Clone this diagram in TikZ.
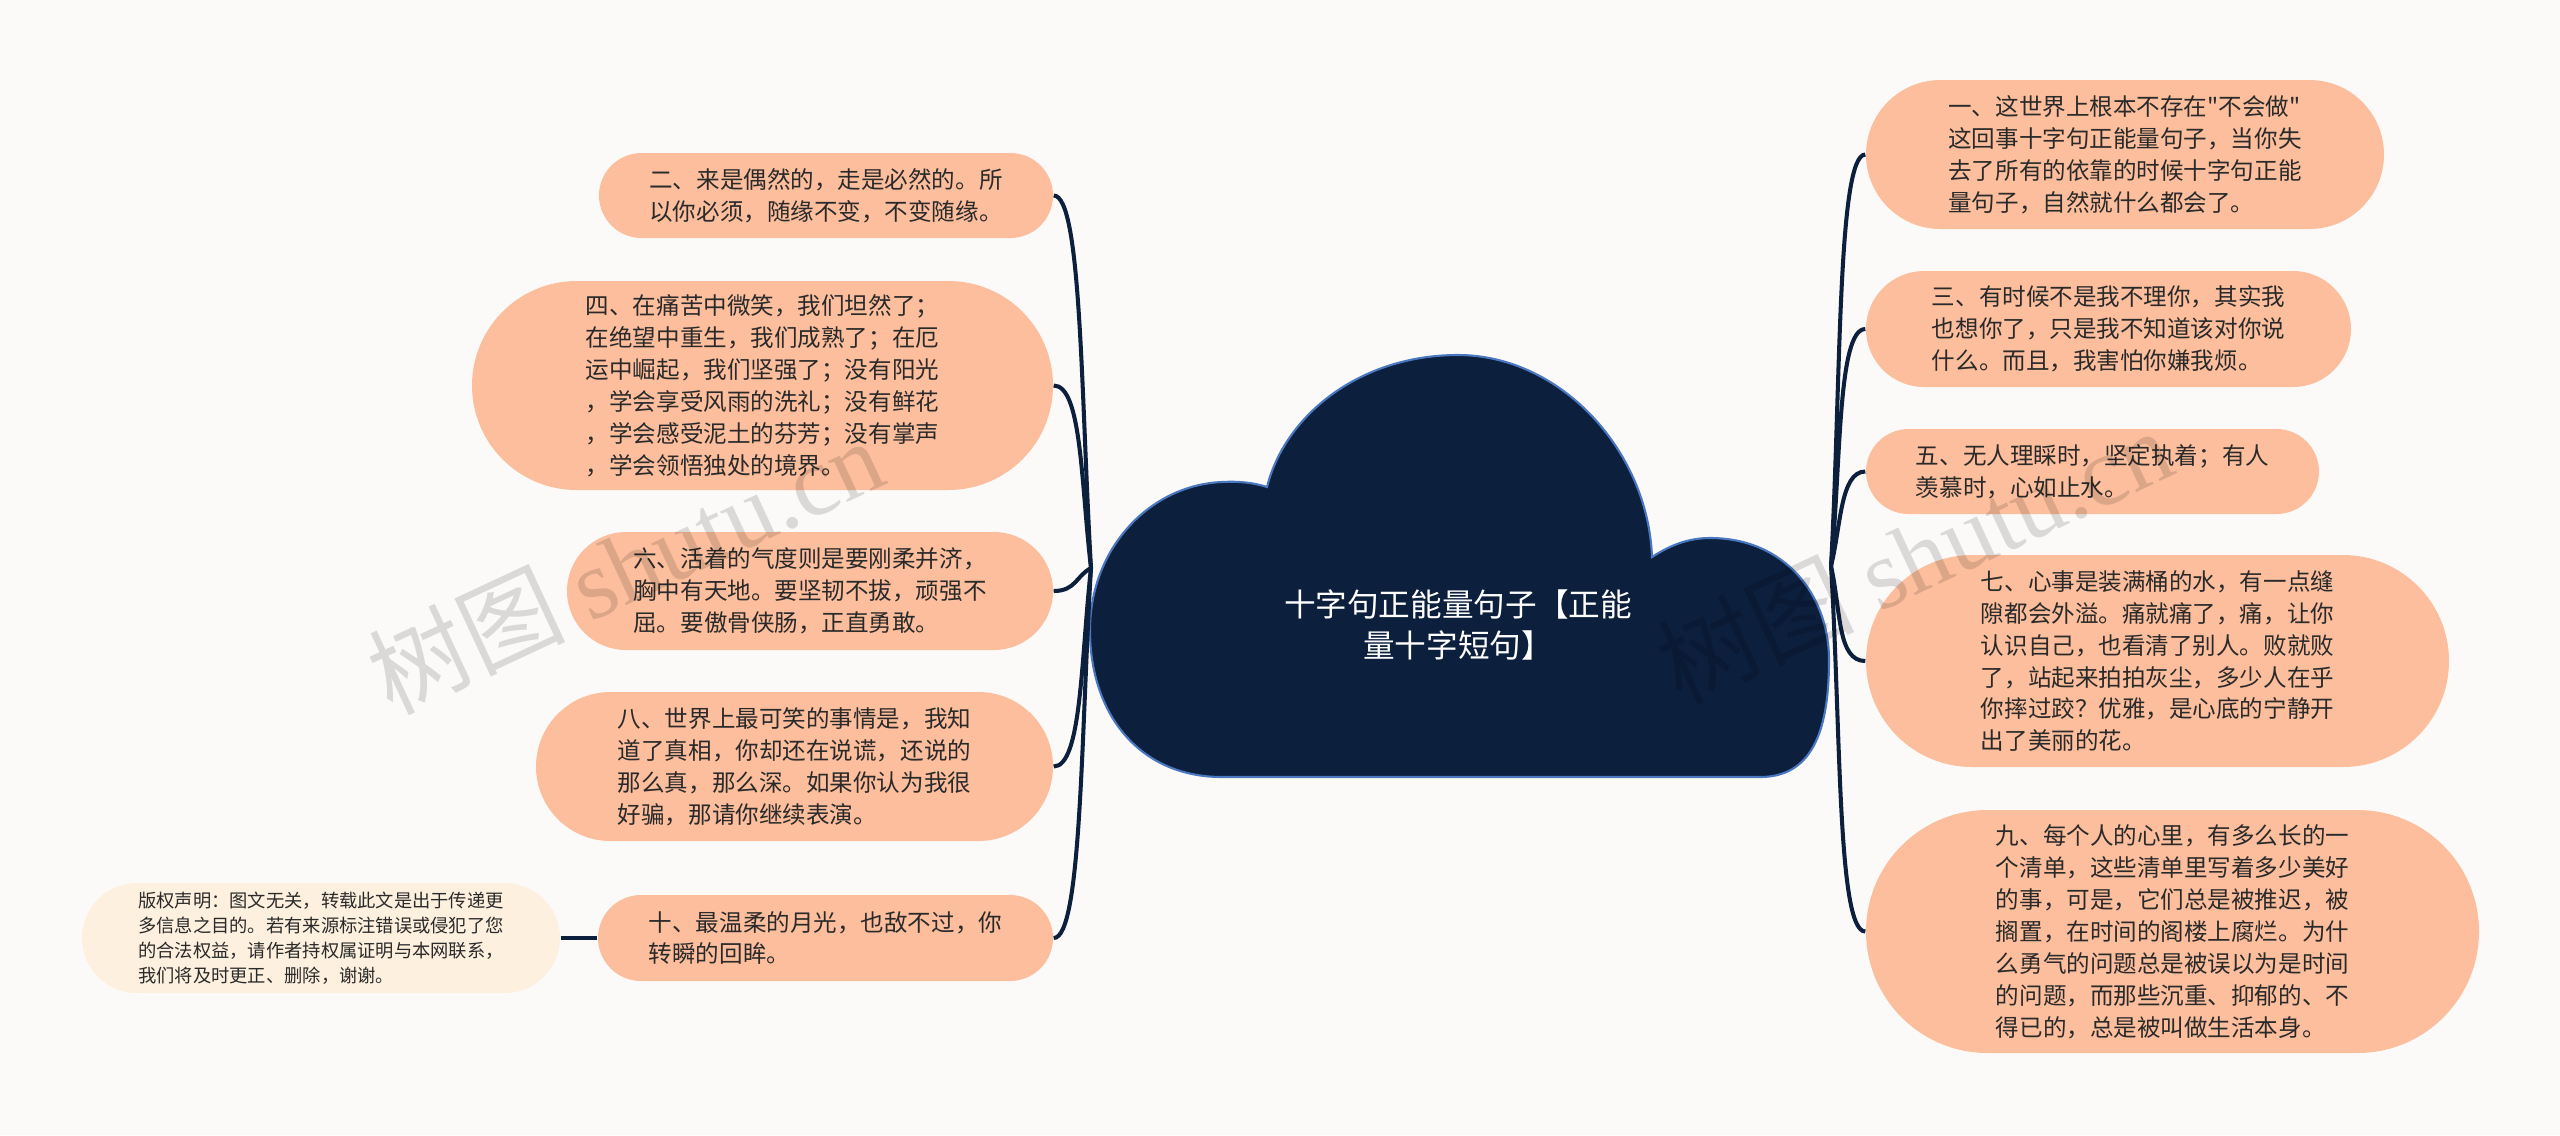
\documentclass[tikz,border=0pt]{standalone}
\usepackage{fontspec}
\setmainfont{Noto Sans CJK SC}[Ligatures=TeXOff]
\newfontfamily\wmfont{Liberation Serif}
\usetikzlibrary{shapes.misc}
\definecolor{bg}{HTML}{FCFAF8}
\definecolor{peach}{HTML}{FCBE9C}
\definecolor{cream}{HTML}{FDF0DF}
\definecolor{navy}{HTML}{0C1F3D}
\definecolor{cloudedge}{HTML}{4A78C0}
\definecolor{txt}{HTML}{2A2A2A}
\begin{document}
\begin{tikzpicture}[x=0.1mm,y=-0.1mm,
  pill/.style={rounded rectangle, fill=peach, inner sep=0pt, align=left, text=txt,
    font=\fontsize{6.7pt}{9.1pt}\selectfont},
  note/.style={pill, fill=cream, font=\fontsize{5.2pt}{7.1pt}\selectfont},
  conn/.style={draw=navy, line width=1.15pt},
  wm/.style={rotate=25, text=black, opacity=0.13, font=\fontsize{28pt}{30pt}\selectfont}
]
\fill[bg] (0,0) rectangle (2560,1135);
\useasboundingbox (0,0) rectangle (2560,1135);

% central cloud
\path[fill=navy, draw=cloudedge, line width=0.6pt]
  (1267,487) .. controls (1285,415) and (1360,355) .. (1458,355)
  .. controls (1560,355) and (1648,450) .. (1652,557)
  .. controls (1672,544) and (1690,538) .. (1710,538)
  .. controls (1785,538) and (1829,595) .. (1829,660)
  .. controls (1829,735) and (1810,777) .. (1760,777)
  -- (1222,777)
  .. controls (1140,777) and (1090,715) .. (1090,630)
  .. controls (1090,548) and (1150,485) .. (1222,482)
  .. controls (1240,481) and (1255,483) .. (1267,487) -- cycle;
\node[text=white, align=center, font=\fontsize{9pt}{11.7pt}\selectfont] (root) at (1458,625)
  {十字句正能量句子【正能\\量十字短句】};
\coordinate (hl) at (1091,568);
\coordinate (hr) at (1831,566);

% left nodes
\node[pill, minimum width=45.4mm, minimum height=8.5mm] (n2) at (826,195.5)
  {二、来是偶然的，走是必然的。所\\以你必须，随缘不变，不变随缘。};
\node[pill, minimum width=58.1mm, minimum height=20.9mm] (n4) at (762.5,385.5)
  {四、在痛苦中微笑，我们坦然了；\\在绝望中重生，我们成熟了；在厄\\运中崛起，我们坚强了；没有阳光\\，学会享受风雨的洗礼；没有鲜花\\，学会感受泥土的芬芳；没有掌声\\，学会领悟独处的境界。};
\node[pill, minimum width=48.6mm, minimum height=11.8mm] (n6) at (810,591)
  {六、活着的气度则是要刚柔并济，\\胸中有天地。要坚韧不拔，顽强不\\屈。要傲骨侠肠，正直勇敢。};
\node[pill, minimum width=51.7mm, minimum height=14.9mm] (n8) at (794.5,766.5)
  {八、世界上最可笑的事情是，我知\\道了真相，你却还在说谎，还说的\\那么真，那么深。如果你认为我很\\好骗，那请你继续表演。};
\node[pill, minimum width=45.5mm, minimum height=8.6mm] (n10) at (825.5,938)
  {十、最温柔的月光，也敌不过，你\\转瞬的回眸。};
\node[note, minimum width=47.8mm, minimum height=11mm] (cp) at (321,938)
  {版权声明：图文无关，转载此文是出于传递更\\多信息之目的。若有来源标注错误或侵犯了您\\的合法权益，请作者持权属证明与本网联系，\\我们将及时更正、删除，谢谢。};

% right nodes
\node[pill, minimum width=51.8mm, minimum height=14.9mm] (n1) at (2125,154.5)
  {一、这世界上根本不存在"不会做"\\这回事十字句正能量句子，当你失\\去了所有的依靠的时候十字句正能\\量句子，自然就什么都会了。};
\node[pill, minimum width=48.5mm, minimum height=11.6mm] (n3) at (2108.5,329)
  {三、有时候不是我不理你，其实我\\也想你了，只是我不知道该对你说\\什么。而且，我害怕你嫌我烦。};
\node[pill, minimum width=45.3mm, minimum height=8.5mm] (n5) at (2092.5,471.5)
  {五、无人理睬时，坚定执着；有人\\羡慕时，心如止水。};
\node[pill, minimum width=58.3mm, minimum height=21.2mm] (n7) at (2157.5,661)
  {七、心事是装满桶的水，有一点缝\\隙都会外溢。痛就痛了，痛，让你\\认识自己，也看清了别人。败就败\\了，站起来拍拍灰尘，多少人在乎\\你摔过跤？优雅，是心底的宁静开\\出了美丽的花。};
\node[pill, minimum width=61.3mm, minimum height=24.3mm] (n9) at (2172.5,931.5)
  {九、每个人的心里，有多么长的一\\个清单，这些清单里写着多少美好\\的事，可是，它们总是被推迟，被\\搁置，在时间的阁楼上腐烂。为什\\么勇气的问题总是被误以为是时间\\的问题，而那些沉重、抑郁的、不\\得已的，总是被叫做生活本身。};

% connectors
\draw[conn] (n2.east) .. controls +(28,0) and +(-10,-170) .. (hl);
\draw[conn] (n4.east) .. controls +(28,0) and +(-10,-85) .. (hl);
\draw[conn] (n6.east) .. controls +(22,0) and +(-15,8) .. (hl);
\draw[conn] (n8.east) .. controls +(28,0) and +(-10,90) .. (hl);
\draw[conn] (n10.east) .. controls +(28,0) and +(-10,165) .. (hl);
\draw[conn] (cp.east) -- (n10.west);
\draw[conn] (n1.west) .. controls +(-28,0) and +(10,-180) .. (hr);
\draw[conn] (n3.west) .. controls +(-28,0) and +(10,-100) .. (hr);
\draw[conn] (n5.west) .. controls +(-25,0) and +(10,-40) .. (hr);
\draw[conn] (n7.west) .. controls +(-28,0) and +(10,45) .. (hr);
\draw[conn] (n9.west) .. controls +(-28,0) and +(10,165) .. (hr);

% watermarks
\node[wm] (wm1) at (625,565) {树图 {\wmfont shutu.cn}};
\node[wm] (wm2) at (1914,555) {树图 {\wmfont shutu.cn}};
\end{tikzpicture}
\end{document}
